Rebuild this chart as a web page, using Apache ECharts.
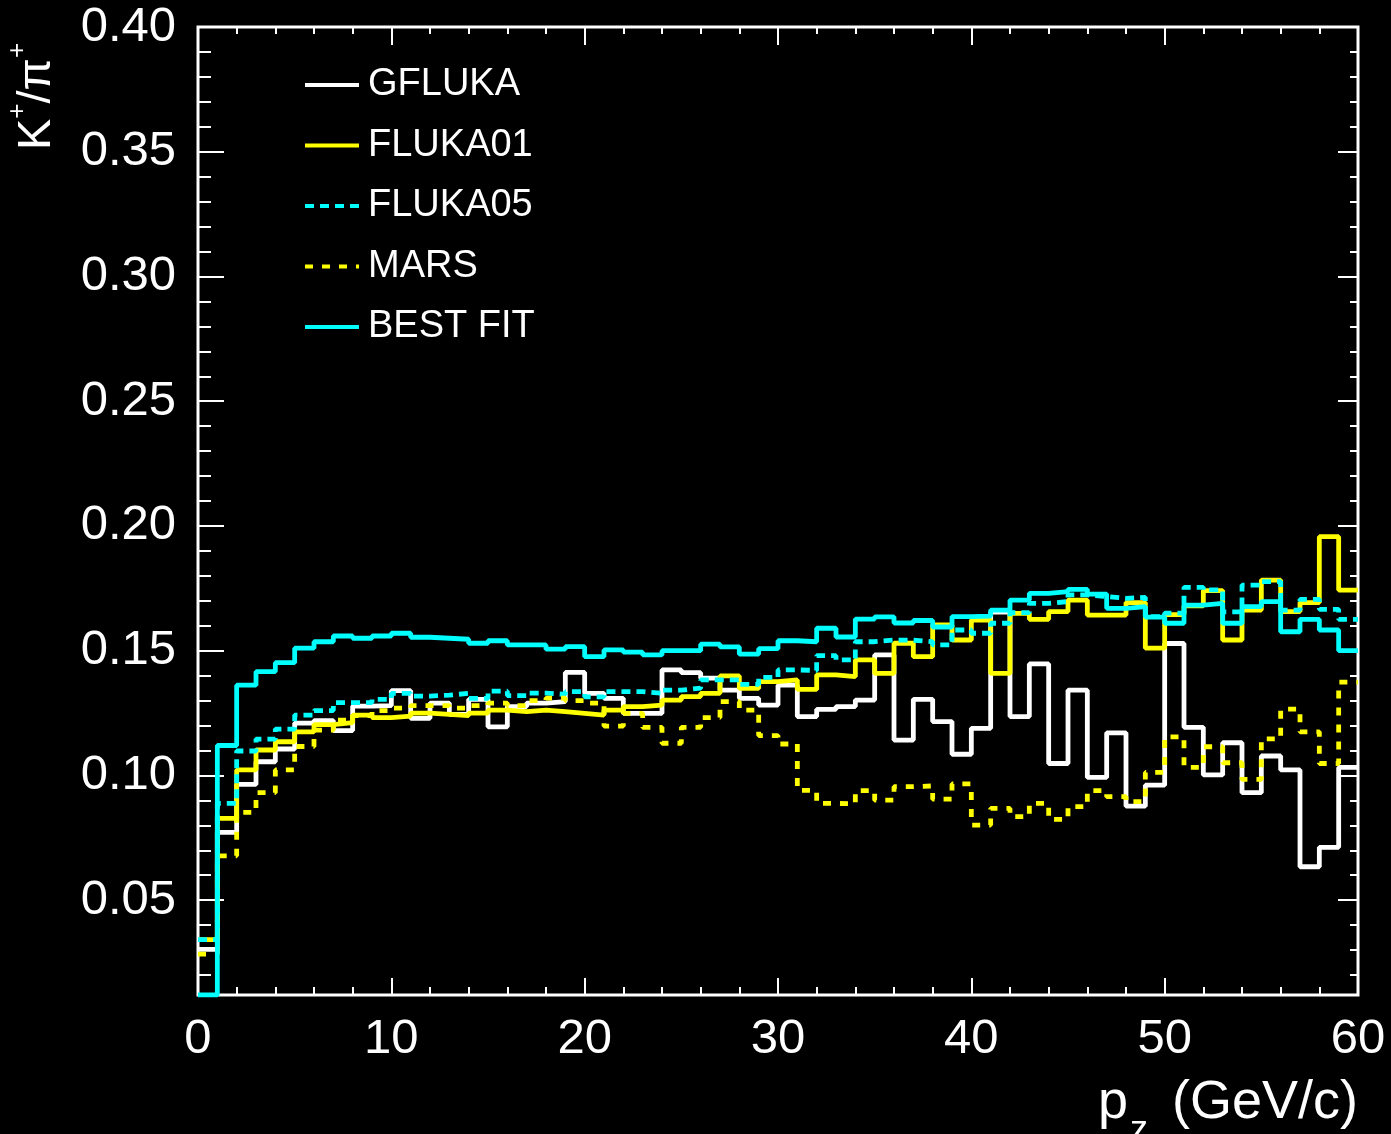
<!DOCTYPE html>
<html>
<head>
<meta charset="utf-8">
<title>K+/pi+ ratio vs pz</title>
<script src="https://cdn.jsdelivr.net/npm/echarts@6/dist/echarts.min.js"></script>
<style>
  html, body { margin: 0; padding: 0; background: #000; }
  #chart { width: 1391px; height: 1134px; }
</style>
</head>
<body>
<div id="chart"></div>
<script>
// 60 bins of 1 GeV/c in pz, ratio K+/pi+ per bin
const binLow = 0, binWidth = 1, nBins = 60;

const gfluka = [
  0.0303, 0.0772, 0.0964, 0.1055, 0.1106, 0.1210, 0.1220, 0.1180, 0.1278, 0.1280,
  0.1340, 0.1229, 0.1290, 0.1245, 0.1305, 0.1195, 0.1276, 0.1290, 0.1296, 0.1413,
  0.1329, 0.1309, 0.1249, 0.1249, 0.1423, 0.1412, 0.1390, 0.1342, 0.1309, 0.1282,
  0.1362, 0.1236, 0.1265, 0.1276, 0.1302, 0.1483, 0.1142, 0.1305, 0.1216, 0.1085,
  0.1189, 0.1655, 0.1236, 0.1447, 0.1048, 0.1342, 0.0992, 0.1171, 0.0877, 0.0961,
  0.1529, 0.1193, 0.1002, 0.1131, 0.0931, 0.1078, 0.1022, 0.0634, 0.0712, 0.1032
];

const fluka01 = [
  0.0342, 0.0828, 0.1022, 0.1102, 0.1135, 0.1175, 0.1204, 0.1212, 0.1242, 0.1232,
  0.1238, 0.1250, 0.1245, 0.1240, 0.1250, 0.1262, 0.1256, 0.1262, 0.1256, 0.1249,
  0.1242, 0.1262, 0.1276, 0.1282, 0.1302, 0.1316, 0.1329, 0.1399, 0.1349, 0.1376,
  0.1383, 0.1345, 0.1403, 0.1396, 0.1463, 0.1409, 0.1530, 0.1476, 0.1603, 0.1543,
  0.1623, 0.1409, 0.1650, 0.1626, 0.1657, 0.1703, 0.1643, 0.1643, 0.1693, 0.1510,
  0.1645, 0.1680, 0.1741, 0.1543, 0.1663, 0.1783, 0.1657, 0.1693, 0.1957, 0.1743
];

const fluka05 = [
  0.0342, 0.0888, 0.1098, 0.1146, 0.1186, 0.1242, 0.1260, 0.1292, 0.1292, 0.1305,
  0.1329, 0.1318, 0.1322, 0.1329, 0.1309, 0.1338, 0.1320, 0.1330, 0.1325, 0.1336,
  0.1315, 0.1336, 0.1336, 0.1329, 0.1342, 0.1350, 0.1383, 0.1383, 0.1365, 0.1393,
  0.1423, 0.1421, 0.1480, 0.1463, 0.1536, 0.1543, 0.1542, 0.1536, 0.1523, 0.1583,
  0.1570, 0.1610, 0.1653, 0.1690, 0.1697, 0.1724, 0.1717, 0.1710, 0.1714, 0.1637,
  0.1651, 0.1754, 0.1744, 0.1656, 0.1763, 0.1777, 0.1663, 0.1706, 0.1666, 0.1626
];

const mars = [
  0.0284, 0.0678, 0.0852, 0.0931, 0.1022, 0.1116, 0.1182, 0.1222, 0.1240, 0.1260,
  0.1270, 0.1280, 0.1280, 0.1270, 0.1280, 0.1290, 0.1280, 0.1300, 0.1310, 0.1300,
  0.1290, 0.1198, 0.1249, 0.1193, 0.1129, 0.1193, 0.1232, 0.1296, 0.1262, 0.1160,
  0.1126, 0.0940, 0.0888, 0.0886, 0.0939, 0.0901, 0.0955, 0.0958, 0.0905, 0.0966,
  0.0801, 0.0868, 0.0835, 0.0888, 0.0824, 0.0875, 0.0939, 0.0915, 0.0895, 0.1012,
  0.1155, 0.1032, 0.1115, 0.1051, 0.0984, 0.1147, 0.1266, 0.1175, 0.1048, 0.1374
];

const bestFit = [
  0.0120, 0.1120, 0.1362, 0.1416, 0.1452, 0.1510, 0.1536, 0.1559, 0.1550, 0.1559,
  0.1570, 0.1554, 0.1550, 0.1546, 0.1530, 0.1540, 0.1523, 0.1523, 0.1506, 0.1516,
  0.1476, 0.1503, 0.1494, 0.1483, 0.1500, 0.1500, 0.1526, 0.1515, 0.1486, 0.1508,
  0.1540, 0.1536, 0.1590, 0.1555, 0.1627, 0.1636, 0.1611, 0.1621, 0.1595, 0.1637,
  0.1639, 0.1663, 0.1703, 0.1730, 0.1737, 0.1746, 0.1727, 0.1670, 0.1677, 0.1635,
  0.1610, 0.1683, 0.1690, 0.1610, 0.1677, 0.1697, 0.1576, 0.1626, 0.1583, 0.1500
];

const xTickValues = [0, 10, 20, 30, 40, 50, 60];
const xTickLabels = ['0', '10', '20', '30', '40', '50', '60'];
const yTickValues = [0.05, 0.10, 0.15, 0.20, 0.25, 0.30, 0.35, 0.40];
const yTickLabels = ['0.05', '0.10', '0.15', '0.20', '0.25', '0.30', '0.35', '0.40'];

const yMin = 0.012, yMax = 0.40;
const xMin = 0, xMax = 60;

// minor ticks every 0.01 on the ratio axis
const yMinorTickValues = [];
for (let k = 2; k <= 39; k++) yMinorTickValues.push(k / 100);

const FONT = '"Liberation Sans", Arial, Helvetica, sans-serif';
const WHITE = '#ffffff';
const YELLOW = '#ffff00';
const CYAN = '#00ffff';

// histogram outline: one point at each bin's lower edge plus the last upper edge
function histPoints(values) {
  const pts = values.map((v, i) => [binLow + i * binWidth, v]);
  pts.push([binLow + nBins * binWidth, values[values.length - 1]]);
  return pts;
}

function lookupLabel(values, labels, v) {
  for (let i = 0; i < values.length; i++) {
    if (Math.abs(values[i] - v) < 1e-6) return labels[i];
  }
  return '';
}

function histSeries(name, values, color, dash) {
  return {
    name: name,
    type: 'line',
    step: 'end',
    symbol: 'none',
    xAxisIndex: 0,
    yAxisIndex: 0,
    data: histPoints(values),
    lineStyle: { color: color, width: 4.8, type: dash || 'solid', cap: 'butt' },
    itemStyle: { color: color },
    emphasis: { disabled: true },
    animation: false
  };
}

function yAxisDef(position, tickValues, tickLen, withLabels) {
  return {
    type: 'value',
    position: position,
    min: yMin,
    max: yMax,
    axisLine: { show: false },
    splitLine: { show: false },
    axisTick: {
      show: true,
      inside: true,
      length: tickLen,
      customValues: tickValues,
      lineStyle: { color: WHITE, width: 2 }
    },
    axisLabel: withLabels ? {
      show: true,
      customValues: yTickValues,
      formatter: v => lookupLabel(yTickValues, yTickLabels, v),
      color: WHITE,
      fontFamily: FONT,
      fontSize: 49,
      margin: 22
    } : { show: false }
  };
}

function xAxisDef(position, majorLen, minorLen, withLabels) {
  return {
    type: 'value',
    position: position,
    min: xMin,
    max: xMax,
    interval: 10,
    axisLine: { show: false },
    splitLine: { show: false },
    minorSplitLine: { show: false },
    axisTick: { show: true, inside: true, length: majorLen, lineStyle: { color: WHITE, width: 2 } },
    minorTick: { show: true, splitNumber: 5, length: minorLen, lineStyle: { color: WHITE, width: 2 } },
    axisLabel: withLabels ? {
      show: true,
      formatter: v => lookupLabel(xTickValues, xTickLabels, v),
      color: WHITE,
      fontFamily: FONT,
      fontSize: 49,
      margin: 20
    } : { show: false }
  };
}

const chart = echarts.init(document.getElementById('chart'), null, { renderer: 'canvas' });

chart.setOption({
  backgroundColor: '#000000',
  animation: false,
  grid: {
    left: 198,
    top: 27,
    right: 33,
    bottom: 139,
    show: true,
    borderColor: WHITE,
    borderWidth: 3,
    backgroundColor: 'transparent'
  },
  xAxis: [
    xAxisDef('bottom', 17, 8, true),
    xAxisDef('top', 18, 7, false)
  ],
  yAxis: [
    yAxisDef('left', yTickValues, 26, true),
    yAxisDef('left', yMinorTickValues, 13, false),
    yAxisDef('right', yTickValues, 20, false),
    yAxisDef('right', yMinorTickValues, 8, false)
  ],
  legend: {
    orient: 'vertical',
    left: 303,
    top: 65,
    padding: 0,
    itemWidth: 54,
    itemHeight: 14,
    itemGap: 20.5,
    selectedMode: false,
    lineStyle: { width: 4 },
    itemStyle: { opacity: 0, borderWidth: 0 },
    textStyle: {
      color: WHITE,
      fontFamily: FONT,
      fontSize: 38,
      lineHeight: 40,
      padding: [0, 0, 0, 4]
    },
    data: ['GFLUKA', 'FLUKA01', 'FLUKA05', 'MARS', 'BEST FIT']
  },
  series: [
    histSeries('GFLUKA', gfluka, WHITE),
    histSeries('FLUKA01', fluka01, YELLOW),
    histSeries('FLUKA05', fluka05, CYAN, [9, 6]),
    histSeries('MARS', mars, YELLOW, [8, 9]),
    histSeries('BEST FIT', bestFit, CYAN)
  ],
  graphic: [
    {
      type: 'text',
      x: 33,
      y: 150,
      rotation: Math.PI / 2,
      style: {
        text: '{b|K}{s|+}{b|/π}{s|+}',
        fill: WHITE,
        align: 'left',
        verticalAlign: 'middle',
        rich: {
          b: { fontFamily: FONT, fontSize: 47, fill: WHITE, verticalAlign: 'bottom', lineHeight: 56 },
          s: { fontFamily: FONT, fontSize: 26, fill: WHITE, verticalAlign: 'top', lineHeight: 56 }
        }
      }
    },
    {
      type: 'text',
      x: 1358,
      y: 1103,
      style: {
        text: '(GeV/c)',
        fill: WHITE,
        fontFamily: FONT,
        fontSize: 54,
        align: 'right',
        verticalAlign: 'middle'
      }
    },
    {
      type: 'text',
      x: 1098,
      y: 1103,
      style: {
        text: 'p',
        fill: WHITE,
        fontFamily: FONT,
        fontSize: 54,
        align: 'left',
        verticalAlign: 'middle'
      }
    },
    {
      type: 'text',
      x: 1130,
      y: 1131,
      style: {
        text: 'z',
        fill: WHITE,
        fontFamily: FONT,
        fontSize: 36,
        align: 'left',
        verticalAlign: 'middle'
      }
    }
  ]
});
</script>
</body>
</html>
